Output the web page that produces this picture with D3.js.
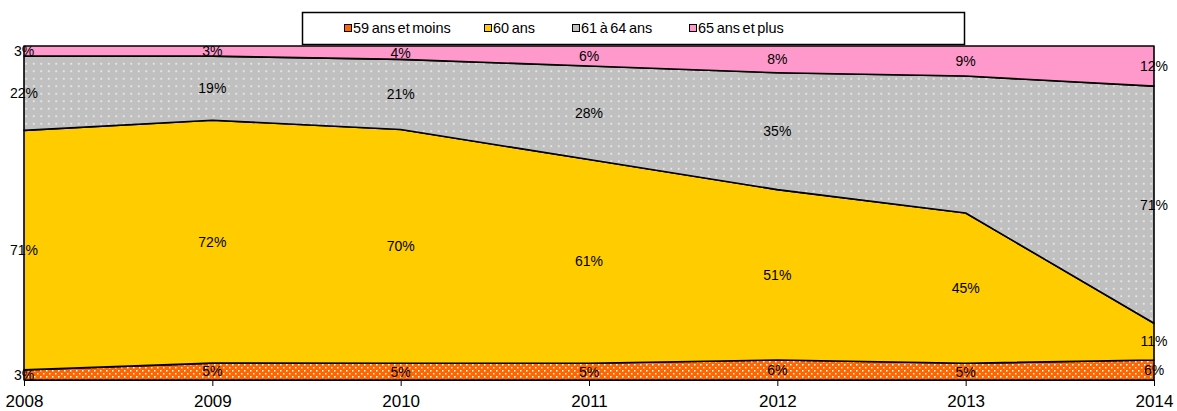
<!DOCTYPE html>
<html>
<head>
<meta charset="utf-8">
<script src="https://cdn.jsdelivr.net/npm/d3@7"></script>
<style>
  body { margin: 0; background: #fff; }
  text { font-family: "Liberation Sans", Arial, sans-serif; fill: #000; }
</style>
</head>
<body>
<svg id="chart" width="1177" height="411"></svg>
<script>
// data (percent of each year)
var years = ["2008", "2009", "2010", "2011", "2012", "2013", "2014"];
var seriesNames = ["59 ans et moins", "60 ans", "61 à 64 ans", "65 ans et plus"];
var age59 = [3, 5, 5, 5, 6, 5, 6];
var age60 = [71, 72, 70, 61, 51, 45, 11];
var age6164 = [22, 19, 21, 28, 35, 41, 71];
var age65 = [3, 3, 4, 6, 8, 9, 12];
// the 61-64 label for 2013 is not shown on the original
var hiddenLabels = [{ series: 2, year: "2013" }];

(function () {
    "use strict";

    var colors = ["#FF6600", "#FFCC00", "#C0C0C0", "#FF99CC"];
    var fills = ["url(#dotsOrange)", "#FFCC00", "url(#dotsGrey)", "#FF99CC"];

    var svg = d3.select("#chart");
    var left = 24, right = 1154, plotTop = 46, bottom = 380;

    var rows = years.map(function (y, i) {
        return { year: y, s0: age59[i], s1: age60[i], s2: age6164[i], s3: age65[i] };
    });

    var x = d3.scalePoint().domain(years).range([left, right]);
    var y = d3.scaleLinear().domain([0, 1]).range([bottom, plotTop]);

    var stack = d3.stack()
        .keys(["s0", "s1", "s2", "s3"])
        .offset(d3.stackOffsetExpand);
    var layers = stack(rows);

    // patterns
    var defs = svg.append("defs");
    var pOrange = defs.append("pattern")
        .attr("id", "dotsOrange")
        .attr("patternUnits", "userSpaceOnUse")
        .attr("width", 6).attr("height", 6);
    pOrange.append("rect").attr("width", 6).attr("height", 6).attr("fill", colors[0]);
    pOrange.append("rect").attr("x", 1).attr("y", 1).attr("width", 1.5).attr("height", 1.5).attr("fill", "#fff");
    pOrange.append("rect").attr("x", 4).attr("y", 4).attr("width", 1.5).attr("height", 1.5).attr("fill", "#fff");

    var pGrey = defs.append("pattern")
        .attr("id", "dotsGrey")
        .attr("patternUnits", "userSpaceOnUse")
        .attr("width", 7.5).attr("height", 7.5);
    pGrey.append("rect").attr("width", 7.5).attr("height", 7.5).attr("fill", colors[2]);
    pGrey.append("rect").attr("x", 3).attr("y", 3).attr("width", 1.5).attr("height", 1.5).attr("fill", "#fafafa");

    var area = d3.area()
        .x(function (d) { return x(d.data.year); })
        .y0(function (d) { return y(d[0]); })
        .y1(function (d) { return y(d[1]); });

    svg.append("g").selectAll("path")
        .data(layers)
        .join("path")
        .attr("d", area)
        .attr("fill", function (d, i) { return fills[i]; })
        .attr("stroke", "#000")
        .attr("stroke-width", 1.6)
        .attr("stroke-linejoin", "round");

    // axis
    var axis = svg.append("g")
        .attr("transform", "translate(0," + bottom + ")")
        .call(d3.axisBottom(x).tickSize(6).tickPadding(9));
    axis.select(".domain").attr("stroke", "#000").attr("stroke-width", 1);
    axis.selectAll(".tick line").attr("stroke", "#000");
    axis.selectAll(".tick text")
        .attr("font-size", 17)
        .attr("font-family", "Liberation Sans, Arial, sans-serif");

    // data labels
    var labels = svg.append("g");
    layers.forEach(function (layer, si) {
        layer.forEach(function (d, i) {
            var hidden = hiddenLabels.some(function (h) {
                return h.series === si && h.year === years[i];
            });
            if (hidden) return;
            var v = d.data["s" + si];
            labels.append("text")
                .attr("x", x(years[i]))
                .attr("y", y((d[0] + d[1]) / 2))
                .attr("dy", "0.35em")
                .attr("text-anchor", "middle")
                .attr("font-size", 14)
                .text(v + "%");
        });
    });

    // legend
    var legend = svg.append("g");
    legend.append("rect")
        .attr("x", 302.5).attr("y", 12.5)
        .attr("width", 662).attr("height", 32)
        .attr("fill", "#fff")
        .attr("stroke", "#000")
        .attr("stroke-width", 1.5);
    var legendX = [344, 484, 572, 689];
    seriesNames.forEach(function (name, i) {
        legend.append("rect")
            .attr("x", legendX[i] + 0.5).attr("y", 24.5)
            .attr("width", 7).attr("height", 7)
            .attr("fill", colors[i])
            .attr("stroke", "#000")
            .attr("stroke-width", 1);
        legend.append("text")
            .attr("x", legendX[i] + 9)
            .attr("y", 28)
            .attr("dy", "0.35em")
            .attr("font-size", 14.5)
            .attr("word-spacing", -1.5)
            .text(name);
    });
})();
</script>
</body>
</html>
